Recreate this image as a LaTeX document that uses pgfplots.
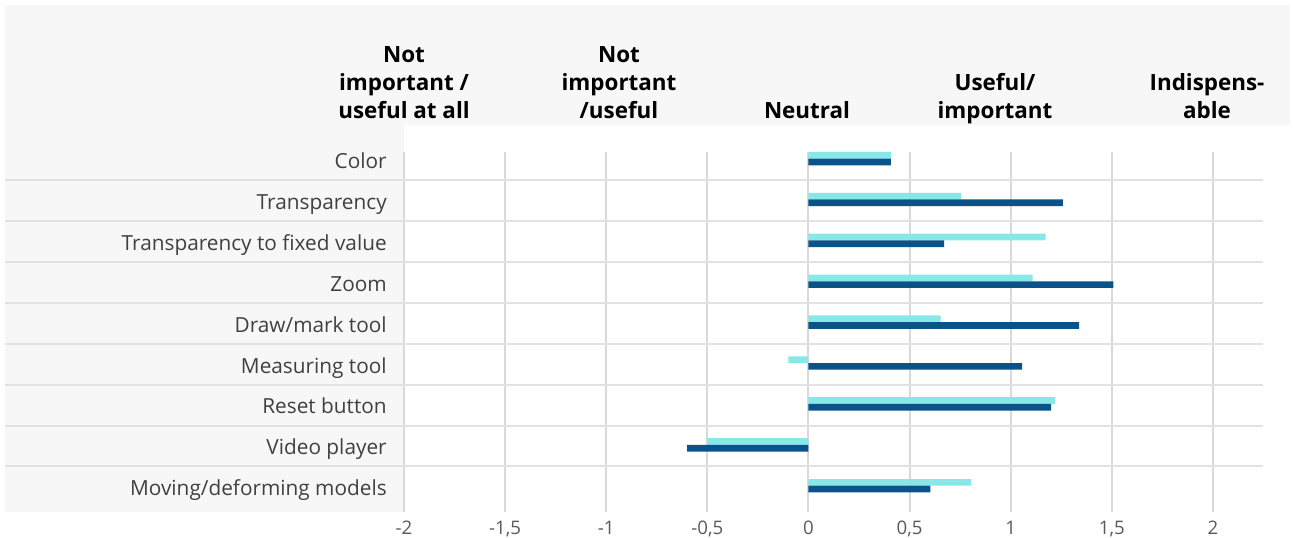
\documentclass[border=0pt]{standalone}
\usepackage{pgfplots}
\pgfplotsset{compat=1.18}
\usepackage{fontspec}
\setmainfont{Open Sans}
\definecolor{cyanbar}{HTML}{88E8E8}
\definecolor{darkbar}{HTML}{0A528A}
\definecolor{bggray}{HTML}{F7F7F7}
\definecolor{gridc}{HTML}{D9D9D9}
\definecolor{sepc}{HTML}{E2E2E2}
\definecolor{labc}{HTML}{404040}
\definecolor{tickc}{HTML}{5A5A5A}
\begin{document}
\begin{tikzpicture}[x=0.75pt,y=-0.75pt]
\useasboundingbox (0,0) rectangle (1293,538);
\fill[bggray] (5,5) rectangle (1290,125);
\fill[bggray] (5,125) rectangle (404,512);
% headers
\begin{scope}[every node/.style={inner sep=0pt, anchor=base, font=\bfseries\fontsize{16.8}{19}\selectfont, text=black}]
\node at (404,63) {Not};
\node at (404,91) {important /};
\node at (404,119) {useful at all};
\node at (619,63) {Not};
\node at (619,91) {important};
\node at (619,119) {/useful};
\node at (807,119) {Neutral};
\node at (995,91) {Useful/};
\node at (995,119) {important};
\node at (1207,91) {Indispens-};
\node at (1207,119) {able};
\end{scope}
\begin{axis}[
  at={(303pt,-384pt)}, anchor=south west,
  scale only axis, width=644.6pt, height=270.1pt,
  xmin=-2, xmax=2.25, ymin=-0.164, ymax=8.643, y dir=reverse,
  xtick={-2,-1.5,-1,-0.5,0,0.5,1,1.5,2},
  ytick={0,1,2,3,4,5,6,7,8},
  yticklabels={Color, Transparency, Transparency to fixed value, Zoom, Draw/mark tool, Measuring tool, Reset button, Video player, Moving/deforming models},
  xmajorgrids, ymajorgrids=false,
  major grid style={gridc, line width=1.5pt},
  axis line style={draw=none},
  major tick length=0pt,
  /pgf/number format/assume math mode=true,
  /pgf/number format/use comma,
  xticklabel style={font=\fontsize{14}{16}\selectfont, text=tickc, inner sep=0pt, anchor=base, yshift=-16.5pt},
  yticklabel style={font=\fontsize{15.6}{18}\selectfont, text=labc, inner sep=0pt, anchor=base east, xshift=-12.75pt, yshift=-7.5pt},
  clip=false,
  xbar, bar width=0.164, bar shift=0pt,
]
\addplot[fill=cyanbar, draw=none] coordinates {
 (0.407,-0.082) (0.755,0.918) (1.173,1.918) (1.108,2.918) (0.653,3.918)
 (-0.099,4.918) (1.22,5.918) (-0.50,6.918) (0.804,7.918)};
\addplot[fill=darkbar, draw=none] coordinates {
 (0.407,0.082) (1.258,1.082) (0.671,2.082) (1.508,3.082) (1.338,4.082)
 (1.056,5.082) (1.20,6.082) (-0.60,7.082) (0.603,8.082)};
\draw[sepc, line width=1.5pt] (axis cs:-3.973,0.53) -- (axis cs:2.25,0.53);
\draw[sepc, line width=1.5pt] (axis cs:-3.973,1.53) -- (axis cs:2.25,1.53);
\draw[sepc, line width=1.5pt] (axis cs:-3.973,2.53) -- (axis cs:2.25,2.53);
\draw[sepc, line width=1.5pt] (axis cs:-3.973,3.53) -- (axis cs:2.25,3.53);
\draw[sepc, line width=1.5pt] (axis cs:-3.973,4.53) -- (axis cs:2.25,4.53);
\draw[sepc, line width=1.5pt] (axis cs:-3.973,5.53) -- (axis cs:2.25,5.53);
\draw[sepc, line width=1.5pt] (axis cs:-3.973,6.53) -- (axis cs:2.25,6.53);
\draw[sepc, line width=1.5pt] (axis cs:-3.973,7.53) -- (axis cs:2.25,7.53);
\end{axis}
\end{tikzpicture}
\end{document}
